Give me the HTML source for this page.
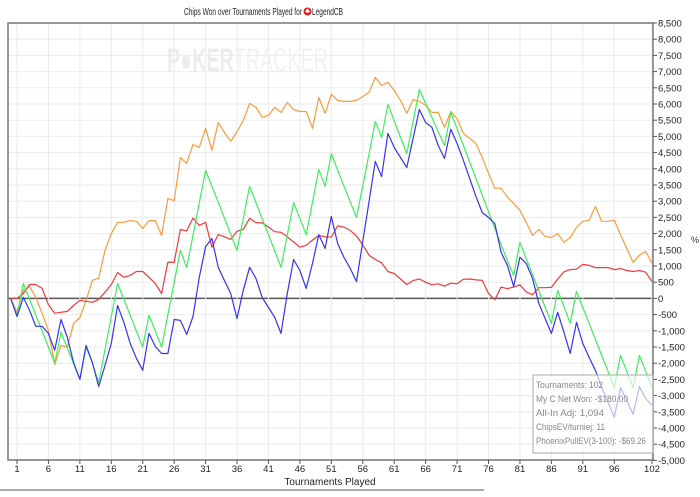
<!DOCTYPE html>
<html><head><meta charset="utf-8"><style>
body{margin:0;background:#fff;width:700px;height:492px;overflow:hidden;font-family:"Liberation Sans",sans-serif}
svg text{font-family:"Liberation Sans",sans-serif}
</style></head><body>
<svg id="chart" width="700" height="492" viewBox="0 0 700 492" xmlns="http://www.w3.org/2000/svg">
<text x="184" y="15" font-size="10" textLength="118" lengthAdjust="spacingAndGlyphs" fill="#222">Chips Won over Tournaments Played for</text>
<g><circle cx="307.5" cy="11.5" r="4" fill="#e02020"/><path d="M307.5 8.5 L310 11.5 L307.5 13 L305 11.5 Z" fill="#fff"/></g>
<text x="312" y="15" font-size="10" textLength="31" lengthAdjust="spacingAndGlyphs" fill="#222">LegendCB</text>
<text x="167" y="71" font-size="32" font-weight="bold" fill="#ececec" textLength="161" lengthAdjust="spacingAndGlyphs">P●KER<tspan font-weight="normal" fill="#f2f2f2">TRACKER</tspan></text>
<g id="grid"></g>
<g id="marks"></g>
<rect x="8" y="23" width="645" height="437" fill="none" stroke="#777" stroke-width="1.5"/>
<g id="axes"></g>
<text x="691" y="243" font-size="9" fill="#333">%</text>
<text x="330" y="485" font-size="10" text-anchor="middle" fill="#222">Tournaments Played</text>
<line x1="0" y1="490" x2="484" y2="490" stroke="#555" stroke-width="1"/>
<g>
<rect x="533" y="375" width="120" height="78" fill="rgba(255,255,255,0.65)" stroke="#aaa"/>
<text x="536" y="388" font-size="9" fill="#888" textLength="67" lengthAdjust="spacingAndGlyphs">Tournaments: 102</text>
<text x="536" y="402" font-size="9" fill="#888" textLength="92" lengthAdjust="spacingAndGlyphs">My C Net Won: -$180.00</text>
<text x="536" y="416" font-size="9" fill="#888" textLength="68" lengthAdjust="spacingAndGlyphs">All-In Adj: 1,094</text>
<text x="536" y="430" font-size="9" fill="#888" textLength="69" lengthAdjust="spacingAndGlyphs">ChipsEV/turniej: 11</text>
<text x="536" y="444" font-size="9" fill="#888" textLength="110" lengthAdjust="spacingAndGlyphs">PhoenixPullEV(3-100): -$69.26</text>
</g>
</svg>
<script>
const xTicks=[1,6,11,16,21,26,31,36,41,46,51,56,61,66,71,76,81,86,91,96,102];
const yTicks=[8500,8000,7500,7000,6500,6000,5500,5000,4500,4000,3500,3000,2500,2000,1500,1000,500,0,-500,-1000,-1500,-2000,-2500,-3000,-3500,-4000,-4500,-5000];
const orangeSeries=[0,-430,250,370,30,-460,-990,-2040,-1450,-1510,-770,-590,-60,560,620,1480,2000,2350,2350,2400,2380,2160,2400,2400,1940,3080,3020,4350,4170,4750,4660,5250,4570,5430,5120,4850,5150,5490,6020,5900,5590,5650,5900,5740,6050,5830,5770,5770,5250,6200,5710,6300,6110,6080,6080,6110,6230,6360,6820,6570,6670,6420,6110,5710,6140,6080,5960,5740,5740,5280,5770,5550,5090,4940,4780,4350,3860,3400,3400,3120,2930,2720,2350,1940,2130,1910,1880,2000,1730,1880,2190,2380,2410,2840,2380,2380,2410,1970,1540,1110,1330,1450,1080];
const redSeries=[0,0,150,430,430,310,-190,-460,-430,-400,-220,-60,-90,-120,-30,190,430,800,650,710,830,830,650,460,150,1120,1110,2130,2080,2480,2250,2350,1580,1970,1900,1820,2070,2130,2470,2340,2330,2200,2060,2040,1900,1740,1580,1640,1800,1940,1900,1890,2240,2200,2100,1930,1650,1330,1200,1100,830,770,600,430,550,600,500,420,450,380,470,450,590,600,570,560,150,-40,350,300,350,420,200,110,330,330,340,600,820,890,900,1050,1020,950,950,950,890,920,860,830,860,810,520];
const greenSeries=[0,-520,460,-30,-520,-1010,-1500,-2000,-1050,-1530,-2020,-2500,-1500,-2000,-2600,-1580,-560,460,-30,-520,-1010,-1500,-520,-1010,-1500,-500,500,1480,950,1950,2950,3950,3460,2970,2470,1980,1480,2470,3460,2960,2460,1960,1460,960,1960,2960,2460,1970,2970,3980,3460,4470,3960,3470,2980,2500,3480,4470,5460,4970,5990,5480,4970,4470,5460,6450,6020,5580,5150,4720,5740,5230,4720,4210,3700,3190,2680,2170,1660,1160,710,1730,1230,730,230,-270,-770,250,-260,-770,220,-280,-770,-1270,-1760,-2250,-2750,-1760,-2250,-2750,-1760,-2250,-2750];
const blueSeries=[0,-560,30,-370,-860,-860,-1080,-1600,-650,-1200,-1980,-2500,-1450,-1980,-2720,-2070,-1390,-220,-740,-1390,-1850,-2220,-1080,-1480,-1700,-1700,-650,-680,-1110,-560,650,1600,1850,960,550,150,-620,250,960,620,30,-280,-590,-1080,150,1200,860,310,1080,1970,1540,2530,1700,1270,930,520,1760,3000,4230,3760,5090,4660,4350,4040,4940,5830,5430,5280,4720,4320,5220,4780,4260,3700,3150,2650,2500,2310,1420,1020,370,1270,1080,620,-150,-620,-1080,-430,-1050,-1700,-740,-1390,-1820,-2220,-2750,-3210,-3670,-2750,-3150,-3580,-2720,-3090,-3300];
const NS='http://www.w3.org/2000/svg';
const X=i=>10.7+6.287*i;
const Y=v=>298.4-(v/500)*16.2;
const grid=document.getElementById('grid'),axes=document.getElementById('axes'),marks=document.getElementById('marks');
function mk(tag,attrs,parent){const e=document.createElementNS(NS,tag);for(const k in attrs)e.setAttribute(k,attrs[k]);parent.appendChild(e);return e;}
yTicks.forEach(v=>{
  const g=mk('line',{x1:8,x2:653,y1:Y(v),y2:Y(v),stroke:v===0?'#555':'#ebebeb','stroke-width':v===0?1.5:1},grid);
  
  
  const t=mk('line',{x1:653,x2:657,y1:Y(v),y2:Y(v),stroke:'#555'},axes);
  
  
  const l=mk('text',{x:658,y:Y(v)+3.5,'font-size':9.5,fill:'#222'},axes);
  
  
  l.textContent=v.toLocaleString('en-US');
});
xTicks.forEach(t=>{
  const g=mk('line',{x1:X(t),x2:X(t),y1:23,y2:460,stroke:'#ebebeb'},grid);
  
  
  const k=mk('line',{x1:X(t),x2:X(t),y1:460,y2:464,stroke:'#555'},axes);
  
  
  const l=mk('text',{x:X(t),y:472,'font-size':9.5,'text-anchor':'middle',fill:'#222'},axes);
  
  
  l.textContent=t;
});
function line(arr,color,name){
  const p=mk('polyline',{points:arr.map((v,i)=>X(i).toFixed(1)+','+Y(v).toFixed(1)).join(' '),fill:'none',stroke:color,'stroke-width':1.2,'stroke-linejoin':'round'},marks);
  
  
}
line(orangeSeries,'#ff9a3c','orange-series-line');
line(redSeries,'#f03a3a','red-series-line');
line(greenSeries,'#3df05a','green-series-line');
line(blueSeries,'#3535f0','blue-series-line');
</script>
</body></html>
